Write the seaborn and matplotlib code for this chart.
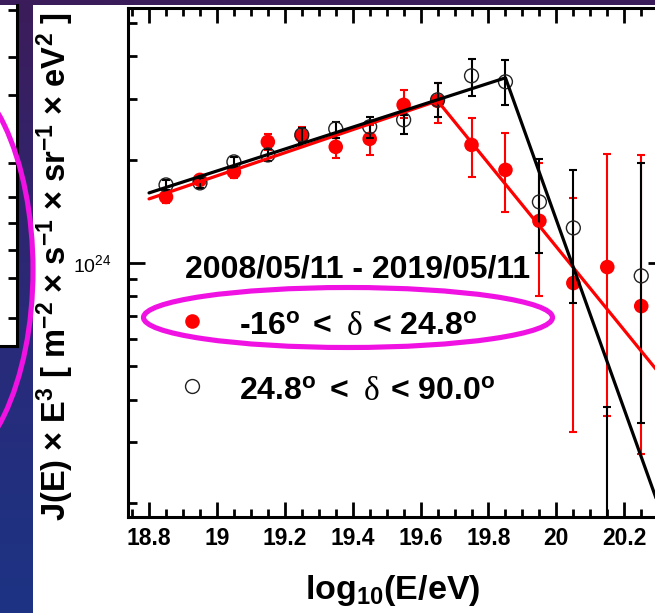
import numpy as np
import matplotlib.pyplot as plt
import seaborn as sns
from matplotlib.patches import Ellipse, Rectangle
from matplotlib.colors import LinearSegmentedColormap
from matplotlib.ticker import LogLocator, NullFormatter, MultipleLocator, FuncFormatter

sns.set_theme(style='ticks')
plt.rcParams['font.family'] = ['Liberation Sans', 'DejaVu Sans']
plt.rcParams['mathtext.fontset'] = 'custom'
plt.rcParams['mathtext.rm'] = 'Liberation Sans'
plt.rcParams['mathtext.it'] = 'Liberation Serif'
plt.rcParams['mathtext.bf'] = 'Liberation Sans:bold'
plt.rcParams['mathtext.default'] = 'regular'
plt.rcParams['text.color'] = 'black'
plt.rcParams['axes.labelcolor'] = 'black'
plt.rcParams['xtick.color'] = 'black'
plt.rcParams['ytick.color'] = 'black'

# energy bins, log10(E/eV)
log_e = [18.85, 18.95, 19.05, 19.15, 19.25, 19.35, 19.45, 19.55,
         19.65, 19.75, 19.85, 19.95, 20.05, 20.15, 20.25]

# -16 < dec < 24.8 (red), in units of 1e24
south_flux = [1.557, 1.746, 1.842, 2.253, 2.346, 2.179, 2.299, 2.888,
              2.967, 2.208, 1.867, 1.326, 0.874, 0.973, 0.749]
south_hi = [1.622, 1.806, 1.918, 2.377, 2.493, 2.314, 2.526, 3.194,
            3.348, 2.647, 2.393, 1.957, 1.547, 2.078, 2.064]
south_lo = [1.496, 1.688, 1.769, 2.135, 2.193, 2.024, 2.064, 2.647,
            2.560, 1.781, 1.408, 0.801, 0.322, 0.358, 0.277]

# 24.8 < dec < 90 (black open), in units of 1e24
north_flux = [1.688, 1.711, 1.970, 2.064, 2.362, 2.459, 2.493, 2.612,
              2.987, 3.509, 3.371, 1.506, 1.265, 0.100, 0.917]
north_hi = [1.746, 1.769, 2.037, 2.149, 2.475, 2.577, 2.665, 2.701,
            3.348, 3.934, 3.907, 2.010, 1.867, 0.380, 1.957]
north_lo = [1.633, 1.654, 1.905, 1.983, 2.238, 2.314, 2.314, 2.377,
            2.665, 3.068, 2.888, 1.069, 0.765, 0.010, 0.342]

# broken power law fits
south_fit_x = [18.8, 19.65, 20.4]
south_fit_y = [1.537, 2.967, 0.364]
north_fit_x = [18.8, 19.85, 20.4]
north_fit_y = [1.600, 3.462, 0.105]

# tick rows of the neighbouring (cropped) panel on the slide
left_panel_ticks = [10, 57, 95, 163, 197, 223, 250, 278, 318]

W, H = 655, 613
fig = plt.figure(figsize=(W / 100, H / 100), dpi=100)

# slide background
bg = fig.add_axes([0, 0, 1, 1], zorder=-5)
cmap = LinearSegmentedColormap.from_list('slide', ['#1d3384', '#2a2a78', '#3c1c5a'])
bg.imshow(np.linspace(0, 1, 256).reshape(-1, 1), extent=[0, 1, 0, 1],
          aspect='auto', cmap=cmap, origin='lower')
bg.add_patch(Rectangle((33 / W, 0), 1, 1 - 5 / H, transform=bg.transAxes,
                       facecolor='white', edgecolor='none'))
bg.set_axis_off()

# cropped neighbour panel at the far left
axl = fig.add_axes([-100 / W, 1 - 346 / H, 117 / W, 341 / H], zorder=-1)
axl.set_facecolor('white')
axl.set_ylim(346, 5)
axl.set_xticks([])
axl.set_yticks(left_panel_ticks)
axl.tick_params(axis='y', left=False, right=True, labelleft=False,
                direction='in', length=6.5, width=2, color='black')
for s in ['top', 'left']:
    axl.spines[s].set_visible(False)
for s in ['right', 'bottom']:
    axl.spines[s].set_linewidth(2.2)
    axl.spines[s].set_color('black')

# main plot
ax = fig.add_axes([128 / W, (H - 517) / H, (665 - 128) / W, (517 - 8) / H])
ax.set_facecolor('white')
ax.set_yscale('log')

e = np.array(log_e)
sf, sh, sl = (np.array(a) * 1e24 for a in (south_flux, south_hi, south_lo))
nf, nh, nl = (np.array(a) * 1e24 for a in (north_flux, north_hi, north_lo))

ax.errorbar(e, sf, yerr=[sf - sl, sh - sf], fmt='none', ecolor='red',
            elinewidth=1.5, capsize=3, capthick=1.5, zorder=2)
sns.scatterplot(x=e, y=sf, color='red', s=110, edgecolor='none', ax=ax, zorder=3)
ax.errorbar(e, nf, yerr=[nf - nl, nh - nf], fmt='none', ecolor='black',
            elinewidth=1.5, capsize=3, capthick=1.5, zorder=4)
sns.scatterplot(x=e, y=nf, facecolor='none', edgecolor='#222222', linewidth=1,
                s=100, ax=ax, zorder=5)

sns.lineplot(x=south_fit_x, y=np.array(south_fit_y) * 1e24, color='red', lw=2.3,
             ax=ax, estimator=None, sort=False, zorder=6)
sns.lineplot(x=north_fit_x, y=np.array(north_fit_y) * 1e24, color='black', lw=2.3,
             ax=ax, estimator=None, sort=False, zorder=7)

ax.set_xlim(18.738, 20.32)
ax.set_ylim(1.82e23, 5.53e24)

ax.xaxis.set_major_locator(MultipleLocator(0.2))
ax.xaxis.set_minor_locator(MultipleLocator(0.05))
ax.xaxis.set_major_formatter(FuncFormatter(lambda v, p: '%g' % round(v, 2)))
ax.set_yticks([1e24])
ax.set_yticklabels([r'$10^{24}$'])
ax.yaxis.set_minor_locator(LogLocator(base=10, subs=np.arange(2, 10)))
ax.yaxis.set_minor_formatter(NullFormatter())

ax.tick_params(axis='both', which='both', direction='in', top=True, right=True,
               color='black', labelcolor='black', width=2)
ax.tick_params(axis='x', which='major', length=11, pad=7, labelsize=16.5)
ax.tick_params(axis='x', which='minor', length=5.5)
ax.tick_params(axis='y', which='major', length=12, pad=11.5, labelsize=14)
ax.tick_params(axis='y', which='minor', length=6.5)
for lbl in ax.get_xticklabels():
    lbl.set_fontweight('bold')
for s in ax.spines.values():
    s.set_linewidth(2.2)
    s.set_color('black')
ax.set_xlabel('')
ax.set_ylabel('')

fig.text(55 / W, 1 - 267 / H,
         r'J(E) $\times$ E$^{3}$ [ m$^{-2}$ $\times$ s$^{-1}$ $\times$ sr$^{-1}$ $\times$ eV$^{2}$ ]',
         rotation=90, ha='center', va='center', fontsize=23.5, fontweight='bold')
fig.text(393 / W, 1 - 599 / H, r'log$_{10}$(E/eV)', ha='center', va='baseline',
         fontsize=24.5, fontweight='bold')

# legend
fig.text(185 / W, 1 - 277 / H, '2008/05/11 - 2019/05/11', ha='left', va='baseline',
         fontsize=23, fontweight='bold')
legend_rows = [
    (335, [(239, r'-16$^{o}$'), (313, '<'), (347, None), (372, r'< 24.8$^{o}$')]),
    (400, [(239, r'24.8$^{o}$'), (330, '<'), (364, None), (390, r'< 90.0$^{o}$')]),
]
for base, parts in legend_rows:
    for px, txt in parts:
        if txt is None:
            fig.text(px / W, 1 - base / H, 'δ', ha='left', va='baseline',
                     fontsize=24, family=['Liberation Serif', 'DejaVu Serif'])
        else:
            fig.text(px / W, 1 - base / H, txt, ha='left', va='baseline',
                     fontsize=23, fontweight='bold')
ax.plot([192 / W], [1 - 321 / H], 'o', color='red', ms=10.5, mec='none',
        transform=fig.transFigure, clip_on=False)
ax.plot([192 / W], [1 - 386 / H], 'o', mfc='none', mec='#222222', mew=1, ms=10,
        transform=fig.transFigure, clip_on=False)

# highlight ellipses
fig.add_artist(Ellipse((348 / W, 1 - 317.5 / H), 409 / W, 60 / H,
                       transform=fig.transFigure, fill=False,
                       edgecolor='#ef12e2', lw=3.7))
fig.add_artist(Ellipse((-65 / W, 1 - 270 / H), 196 / W, 410 / H,
                       transform=fig.transFigure, fill=False,
                       edgecolor='#ef12e2', lw=3.7))

fig.savefig('out.png', dpi=100)
